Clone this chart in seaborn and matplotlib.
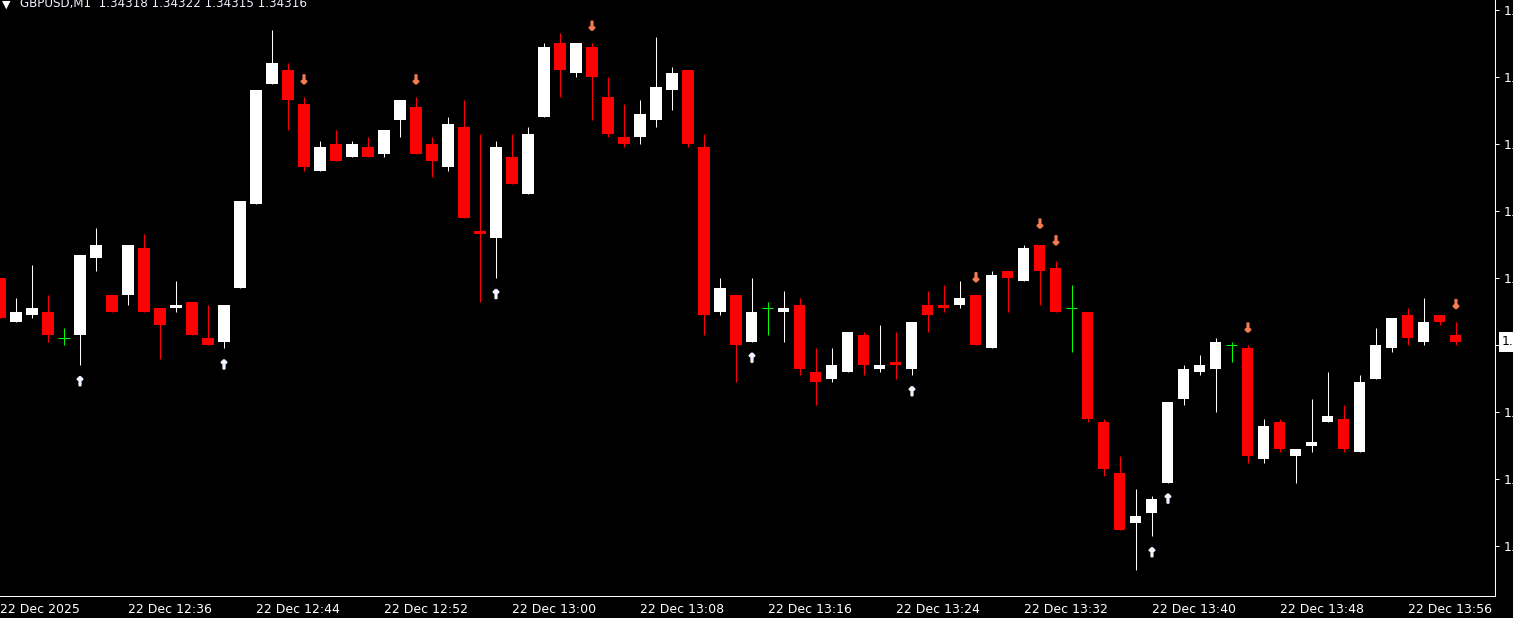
import numpy as np
import pandas as pd
import matplotlib
matplotlib.use("Agg")
import matplotlib.pyplot as plt
import matplotlib.transforms as mtransforms
import matplotlib.patheffects as pe
import seaborn as sns

# GBPUSD M1 candles, 22 Dec 2025 from 12:28
opens = [1.34335, 1.34322, 1.34324, 1.34325, 1.34317, 1.34318, 1.34341, 1.34330, 1.34330, 1.34344,
         1.34326, 1.34326, 1.34328, 1.34317, 1.34316, 1.34332, 1.34357, 1.34393, 1.34397, 1.34387,
         1.34367, 1.34375, 1.34371, 1.34374, 1.34372, 1.34382, 1.34386, 1.34375, 1.34368, 1.34380,
         1.34349, 1.34347, 1.34371, 1.34360, 1.34383, 1.34405, 1.34396, 1.34404, 1.34389, 1.34377,
         1.34377, 1.34382, 1.34391, 1.34397, 1.34374, 1.34325, 1.34330, 1.34316, 1.34326, 1.34325,
         1.34327, 1.34307, 1.34305, 1.34307, 1.34318, 1.34308, 1.34310, 1.34308, 1.34327, 1.34327,
         1.34327, 1.34330, 1.34314, 1.34337, 1.34334, 1.34345, 1.34338, 1.34326, 1.34325, 1.34292,
         1.34277, 1.34262, 1.34265, 1.34274, 1.34299, 1.34307, 1.34308, 1.34315, 1.34314, 1.34281,
         1.34292, 1.34282, 1.34285, 1.34292, 1.34293, 1.34283, 1.34305, 1.34314, 1.34324, 1.34316,
         1.34324, 1.34318]
highs = [1.34335, 1.34329, 1.34339, 1.34330, 1.34320, 1.34342, 1.34350, 1.34330, 1.34345, 1.34348,
         1.34326, 1.34334, 1.34328, 1.34327, 1.34327, 1.34358, 1.34391, 1.34409, 1.34399, 1.34389,
         1.34376, 1.34379, 1.34376, 1.34377, 1.34379, 1.34388, 1.34389, 1.34377, 1.34383, 1.34388,
         1.34378, 1.34376, 1.34378, 1.34380, 1.34405, 1.34408, 1.34405, 1.34405, 1.34395, 1.34387,
         1.34388, 1.34407, 1.34398, 1.34397, 1.34378, 1.34335, 1.34330, 1.34335, 1.34328, 1.34331,
         1.34329, 1.34314, 1.34314, 1.34319, 1.34319, 1.34321, 1.34319, 1.34322, 1.34331, 1.34333,
         1.34334, 1.34330, 1.34337, 1.34337, 1.34345, 1.34345, 1.34340, 1.34333, 1.34325, 1.34293,
         1.34282, 1.34272, 1.34270, 1.34298, 1.34309, 1.34312, 1.34317, 1.34316, 1.34315, 1.34293,
         1.34293, 1.34284, 1.34299, 1.34307, 1.34297, 1.34306, 1.34320, 1.34323, 1.34326, 1.34329,
         1.34324, 1.34322]
lows = [1.34323, 1.34322, 1.34323, 1.34316, 1.34315, 1.34309, 1.34337, 1.34325, 1.34327, 1.34325,
        1.34311, 1.34325, 1.34318, 1.34315, 1.34314, 1.34332, 1.34357, 1.34393, 1.34379, 1.34367,
        1.34367, 1.34370, 1.34371, 1.34371, 1.34371, 1.34377, 1.34372, 1.34365, 1.34367, 1.34353,
        1.34328, 1.34335, 1.34363, 1.34360, 1.34383, 1.34389, 1.34395, 1.34382, 1.34377, 1.34374,
        1.34375, 1.34380, 1.34385, 1.34374, 1.34318, 1.34324, 1.34304, 1.34316, 1.34318, 1.34316,
        1.34306, 1.34297, 1.34304, 1.34307, 1.34306, 1.34307, 1.34305, 1.34306, 1.34319, 1.34325,
        1.34326, 1.34315, 1.34314, 1.34325, 1.34334, 1.34327, 1.34325, 1.34313, 1.34292, 1.34276,
        1.34260, 1.34248, 1.34258, 1.34274, 1.34297, 1.34306, 1.34295, 1.34310, 1.34280, 1.34280,
        1.34283, 1.34274, 1.34283, 1.34292, 1.34283, 1.34283, 1.34305, 1.34313, 1.34315, 1.34315,
        1.34321, 1.34315]
closes = [1.34323, 1.34325, 1.34326, 1.34318, 1.34317, 1.34342, 1.34345, 1.34325, 1.34345, 1.34325,
          1.34321, 1.34327, 1.34318, 1.34315, 1.34327, 1.34358, 1.34391, 1.34399, 1.34388, 1.34368,
          1.34374, 1.34370, 1.34375, 1.34371, 1.34379, 1.34388, 1.34372, 1.34370, 1.34381, 1.34353,
          1.34348, 1.34374, 1.34363, 1.34378, 1.34404, 1.34397, 1.34405, 1.34395, 1.34378, 1.34375,
          1.34384, 1.34392, 1.34396, 1.34375, 1.34324, 1.34332, 1.34315, 1.34325, 1.34326, 1.34326,
          1.34308, 1.34304, 1.34309, 1.34319, 1.34309, 1.34309, 1.34309, 1.34322, 1.34324, 1.34326,
          1.34329, 1.34315, 1.34336, 1.34335, 1.34344, 1.34337, 1.34325, 1.34326, 1.34293, 1.34278,
          1.34260, 1.34264, 1.34269, 1.34298, 1.34308, 1.34309, 1.34316, 1.34315, 1.34282, 1.34291,
          1.34284, 1.34284, 1.34286, 1.34294, 1.34284, 1.34304, 1.34315, 1.34323, 1.34317, 1.34322,
          1.34322, 1.34316]

# signal arrows (bar index, price level)
up_idx = [5, 14, 31, 47, 57, 72, 73]
up_price = [1.34304, 1.34309, 1.34330, 1.34311, 1.34301, 1.34253, 1.34269]
down_idx = [19, 26, 37, 61, 65, 66, 78, 91]
down_price = [1.34394, 1.34394, 1.34410, 1.34335, 1.34351, 1.34346, 1.34320, 1.34327]

xtick_idx = [0, 8, 16, 24, 32, 40, 48, 56, 64, 72, 80, 88]
xtick_labels = ['22 Dec 2025', '22 Dec 12:36', '22 Dec 12:44', '22 Dec 12:52', '22 Dec 13:00',
                '22 Dec 13:08', '22 Dec 13:16', '22 Dec 13:24', '22 Dec 13:32', '22 Dec 13:40',
                '22 Dec 13:48', '22 Dec 13:56']
ytick_vals = [1.34415, 1.34395, 1.34375, 1.34355, 1.34335, 1.34315, 1.34295, 1.34275, 1.34255]

symbol = 'GBPUSD,M1'
last_price = 1.34316

df = pd.DataFrame({'open': opens, 'high': highs, 'low': lows, 'close': closes})
df['idx'] = np.arange(len(df))
df['kind'] = np.where(df['close'] > df['open'], 'up',
                      np.where(df['close'] < df['open'], 'down', 'doji'))
col_map = {'up': '#FFFFFF', 'down': '#FF0000', 'doji': '#00FF00'}
df['color'] = df['kind'].map(col_map)

sns.set_theme(style='dark', rc={'axes.facecolor': 'black', 'figure.facecolor': 'black',
                                'axes.edgecolor': 'white', 'text.color': 'white',
                                'xtick.color': 'white', 'ytick.color': 'white',
                                'axes.grid': False})
plt.rcParams['font.family'] = ['DejaVu Sans']

fig = plt.figure(figsize=(15.13, 6.18), dpi=100)
ax = fig.add_axes([0, 22 / 618, 1495 / 1513, 596 / 618])
ax.set_facecolor('black')

px = 0.72  # one pixel in points
bw = 0.69

# wicks
ax.vlines(df['idx'], df['low'], df['high'], colors=df['color'], lw=px, zorder=2)

# bodies
body = df[df['kind'] != 'doji']
ax.bar(body['idx'], (body['close'] - body['open']).abs(),
       bottom=body[['open', 'close']].min(axis=1), width=bw,
       color=body['color'], linewidth=0, zorder=3)

# doji crosses
dj = df[df['kind'] == 'doji']
ax.hlines(dj['open'], dj['idx'] - bw / 2, dj['idx'] + bw / 2, colors='#00FF00', lw=px, zorder=3)

# signal arrows as glyphs, thickened with a stroke
up_col = '#EEF4FF'
dn_col = '#F47A50'
for i, p in zip(up_idx, up_price):
    ax.text(i, p, '\u2191', color=up_col, fontsize=8.5, fontweight='bold',
            ha='center', va='center', zorder=4,
            path_effects=[pe.withStroke(linewidth=1.3, foreground=up_col)])
for i, p in zip(down_idx, down_price):
    ax.text(i, p, '\u2193', color=dn_col, fontsize=8.5, fontweight='bold',
            ha='center', va='center', zorder=4,
            path_effects=[pe.withStroke(linewidth=1.3, foreground=dn_col)])

ax.set_xlim(0, 93.44)
ax.set_ylim(1.342402, 1.344179)

ax.set_xticks(xtick_idx)
ax.set_xticklabels(xtick_labels, fontsize=9, color='white', ha='left')
ax.yaxis.tick_right()
ax.set_yticks(ytick_vals)
ax.set_yticklabels(['%.5f' % v for v in ytick_vals], fontsize=9, color='white')
ax.tick_params(axis='x', direction='out', length=3, width=px, pad=2, colors='white')
ax.tick_params(axis='y', direction='out', length=3, width=px, pad=3, colors='white')

for s in ['top', 'left']:
    ax.spines[s].set_visible(False)
for s in ['right', 'bottom']:
    ax.spines[s].set_color('white')
    ax.spines[s].set_linewidth(px)

# current price label on the scale
trans = mtransforms.blended_transform_factory(ax.transAxes, ax.transData)
ax.text(1.0 + 7 / 1495, last_price, '%.5f' % last_price, transform=trans, color='black',
        fontsize=9, ha='left', va='center', clip_on=False, zorder=10,
        bbox=dict(facecolor='white', edgecolor='none', pad=2.5))

# header
fig.text(2 / 1513, 1 - 8 / 618, '\u25BC', color='white', fontsize=8, va='baseline')
fig.text(20 / 1513, 1 - 7.5 / 618,
         '%s  %.5f %.5f %.5f %.5f' % (symbol, opens[-1], highs[-1], lows[-1], closes[-1]),
         color='#EEF2FF', fontsize=8.6, va='baseline')

fig.savefig('out.png', dpi=100, facecolor='black')
